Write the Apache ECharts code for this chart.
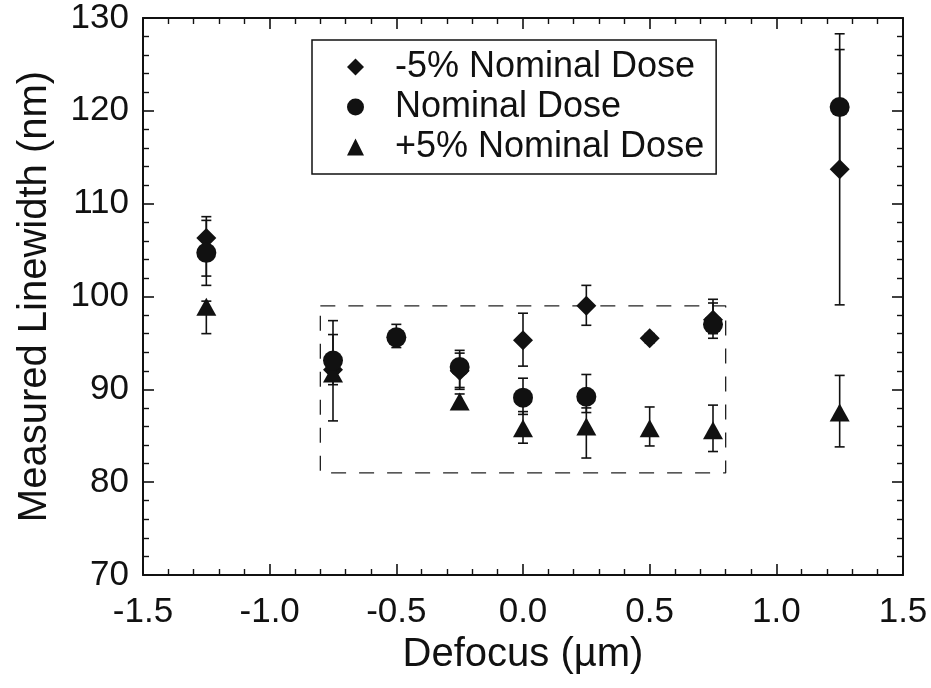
<!DOCTYPE html>
<html>
<head>
<meta charset="utf-8">
<script src="https://cdn.jsdelivr.net/npm/echarts@6/dist/echarts.min.js"></script>
<style>
html,body{margin:0;padding:0;background:#fff;}
#chart{width:931px;height:688px;}
</style>
</head>
<body>
<div id="chart"></div>
<script>
// Defocus positions (µm)
var defocus = [-1.25, -0.75, -0.5, -0.25, 0.0, 0.25, 0.5, 0.75, 1.25];

// -5% Nominal Dose (diamonds)
var minusVal  = [106.3, 92.1, null, 92.0, 95.3, 99.0, 95.5, 97.5, 113.7];
var minusLow  = [102.2, 90.5, null, 90.0, 92.5, 96.9, 95.0, 96.0, 99.1];
var minusHigh = [108.6, 97.4, null, 93.9, 98.2, 101.2, 96.0, 99.7, 128.3];

// Nominal Dose (circles)
var nomVal  = [104.7, 93.1, 95.6, 92.4, 89.1, 89.2, null, 97.0, 120.4];
var nomLow  = [101.2, 91.0, 94.5, 90.2, 87.3, 87.5, null, 95.5, 114.0];
var nomHigh = [108.2, 95.9, 97.0, 94.2, 91.2, 91.6, null, 99.3, 126.6];

// +5% Nominal Dose (triangles)
var plusVal  = [98.9, 91.7, null, 88.7, 85.8, 86.0, 85.8, 85.6, 87.5];
var plusLow  = [96.0, 86.6, null, 88.0, 84.2, 82.6, 83.9, 83.3, 83.8];
var plusHigh = [99.5, 93.0, null, 89.5, 87.6, 88.0, 88.1, 88.3, 91.5];

// Dashed region: [xMin, xMax], [yMin, yMax]
var boxX = [-0.8, 0.8];
var boxY = [81, 99];

var seriesNames = ['-5% Nominal Dose', 'Nominal Dose', '+5% Nominal Dose'];

function pts(v) {
  var out = [];
  for (var i = 0; i < defocus.length; i++) if (v[i] != null) out.push([defocus[i], v[i]]);
  return out;
}
function errs(lo, hi) {
  var out = [];
  for (var i = 0; i < defocus.length; i++) if (lo[i] != null) out.push([defocus[i], lo[i], hi[i]]);
  return out;
}
function errRender(params, api) {
  var x = api.value(0);
  var p1 = api.coord([x, api.value(1)]);
  var p2 = api.coord([x, api.value(2)]);
  var hw = 5;
  var st = {stroke: '#111', lineWidth: 1.6};
  return {
    type: 'group',
    children: [
      {type: 'line', shape: {x1: p1[0], y1: p1[1], x2: p2[0], y2: p2[1]}, style: st},
      {type: 'line', shape: {x1: p1[0]-hw, y1: p1[1], x2: p1[0]+hw, y2: p1[1]}, style: st},
      {type: 'line', shape: {x1: p2[0]-hw, y1: p2[1], x2: p2[0]+hw, y2: p2[1]}, style: st}
    ]
  };
}
function errSeries(lo, hi) {
  return {type: 'custom', renderItem: errRender, data: errs(lo, hi), silent: true, z: 2,
          encode: {x: 0, y: [1, 2]}};
}

var font = '"Liberation Sans", Arial, Helvetica, sans-serif';
var axisLine = {show: true, onZero: false, lineStyle: {color: '#111', width: 2}};
var tick = {show: true, inside: true, length: 11, lineStyle: {color: '#111', width: 1.6}};
var minor = {show: true, splitNumber: 5, length: 6, lineStyle: {color: '#111', width: 1.4}};

var chart = echarts.init(document.getElementById('chart'));
chart.setOption({
  backgroundColor: '#fff',
  animation: false,
  grid: {left: 143, right: 28, top: 18, bottom: 113},
  legend: {
    orient: 'vertical', left: 312, top: 40,
    data: seriesNames,
    padding: [9, 12, 9, 35],
    itemGap: 4, itemWidth: 17, itemHeight: 17,
    borderColor: '#111', borderWidth: 1.5,
    textStyle: {fontFamily: font, fontSize: 36, color: '#111', padding: [0, 0, 0, 26]}
  },
  xAxis: [
    {type: 'value', min: -1.5, max: 1.5, interval: 0.5, position: 'bottom',
     axisLine: axisLine, axisTick: tick, minorTick: minor, splitLine: {show: false},
     axisLabel: {fontFamily: font, fontSize: 35, color: '#111', margin: 20,
       formatter: function (v) { return v.toFixed(1); }},
     name: 'Defocus (\u00b5m)', nameLocation: 'middle', nameGap: 60,
     nameTextStyle: {fontFamily: font, fontSize: 40, color: '#111'}},
    {type: 'value', min: -1.5, max: 1.5, interval: 0.5, position: 'top',
     axisLine: axisLine, axisTick: tick, minorTick: minor, splitLine: {show: false},
     axisLabel: {show: false}}
  ],
  yAxis: [
    {type: 'value', min: 70, max: 130, interval: 10, position: 'left',
     axisLine: axisLine, axisTick: tick, minorTick: minor, splitLine: {show: false},
     axisLabel: {fontFamily: font, fontSize: 35, color: '#111', margin: 14},
     name: 'Measured Linewidth (nm)', nameLocation: 'middle', nameGap: 88,
     nameTextStyle: {fontFamily: font, fontSize: 40, color: '#111'}},
    {type: 'value', min: 70, max: 130, interval: 10, position: 'right',
     axisLine: axisLine, axisTick: tick, minorTick: minor, splitLine: {show: false},
     axisLabel: {show: false}}
  ],
  series: [
    {type: 'line', data: [[boxX[0], boxY[1]], [boxX[1], boxY[1]], [boxX[1], boxY[0]], [boxX[0], boxY[0]], [boxX[0], boxY[1]]],
     symbol: 'none', silent: true, z: 1,
     lineStyle: {color: '#222', width: 1.3, type: [15, 13]}},
    errSeries(minusLow, minusHigh),
    errSeries(nomLow, nomHigh),
    errSeries(plusLow, plusHigh),
    {name: seriesNames[0], type: 'scatter', symbol: 'diamond', symbolSize: [20, 20],
     itemStyle: {color: '#111', opacity: 1}, data: pts(minusVal), z: 3},
    {name: seriesNames[1], type: 'scatter', symbol: 'circle', symbolSize: 20,
     itemStyle: {color: '#111', opacity: 1}, data: pts(nomVal), z: 4},
    {name: seriesNames[2], type: 'scatter', symbol: 'triangle', symbolSize: [20, 18],
     itemStyle: {color: '#111', opacity: 1}, data: pts(plusVal), z: 3}
  ]
});
</script>
</body>
</html>
